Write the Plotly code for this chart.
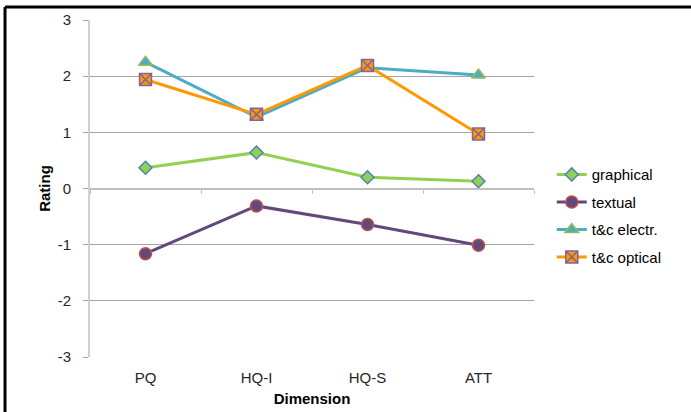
import plotly.graph_objects as go

dimensions = ["PQ", "HQ-I", "HQ-S", "ATT"]
graphical = [0.37, 0.64, 0.20, 0.13]
textual = [-1.16, -0.31, -0.64, -1.01]
tc_electr = [2.25, 1.27, 2.15, 2.02]
tc_optical = [1.94, 1.32, 2.19, 0.97]
y_ticks = [-3, -2, -1, 0, 1, 2, 3]
y_tick_labels = ["-3", "-2", "-1", "0", "1", "2", "3"]

FONT = "Liberation Sans, Arial, sans-serif"

series = [
    ("graphical", graphical, "#92d050", "diamond", "#92d050", "#4f81bd", 10),
    ("textual", textual, "#604a7b", "circle", "#604a7b", "#c0504d", 12),
    ("t&c electr.", tc_electr, "#4bacc6", "triangle-up", "#4bacc6", "#9bbb59", 12),
    ("t&c optical", tc_optical, "#ff9900", "square-x", "#ff9900", "#8064a2", 12),
]

fig = go.Figure()
for i, (name, vals, lc, sym, fc, oc, sz) in enumerate(series):
    fig.add_trace(go.Scatter(
        x=dimensions, y=vals, name=name, mode="lines+markers",
        line=dict(color=lc, width=3),
        marker=dict(symbol=sym, size=sz, color=fc, line=dict(color=oc, width=1.5)),
        legendgroup=f"g{i}",
    ))

# dummy trace to show the category axis crossing at zero
fig.add_trace(go.Scatter(x=dimensions, y=[None] * len(dimensions), xaxis="x2",
                         showlegend=False, hoverinfo="skip", mode="lines"))

fig.update_layout(
    width=691, height=412,
    margin=dict(l=90, r=157, t=20, b=55, autoexpand=False),
    paper_bgcolor="white", plot_bgcolor="white",
    font=dict(family=FONT, size=15, color="#262626"),
    showlegend=True,
    legend=dict(x=1.04, xanchor="left", y=0.59, yanchor="top",
                traceorder="grouped", tracegroupgap=5,
                font=dict(family=FONT, size=15, color="#000000"),
                bgcolor="rgba(0,0,0,0)"),
    xaxis=dict(type="category", categoryarray=dimensions, range=[-0.5, 3.5],
               showline=False, showgrid=False, ticks="", zeroline=False,
               ticklabelstandoff=10, automargin=False,
               tickfont=dict(size=15, color="#262626"),
               title=dict(text="<b>Dimension</b>", font=dict(size=15, color="#000000"), standoff=8)),
    xaxis2=dict(type="category", categoryarray=dimensions, range=[-0.5, 3.5],
                overlaying="x", anchor="free", position=0.5, side="bottom",
                showline=True, linecolor="#bfbfbf", linewidth=2, automargin=False,
                ticks="outside", ticklen=4, tickcolor="#bfbfbf", tickwidth=1,
                tickson="boundaries", showticklabels=False, showgrid=False, zeroline=False),
    yaxis=dict(range=[-3, 3], tickvals=y_ticks, ticktext=y_tick_labels,
               showgrid=True, gridcolor="#a6a6a6", gridwidth=1,
               zeroline=False, showline=True, linecolor="#d0d0d0", linewidth=2,
               ticks="outside", ticklen=5, tickcolor="#a6a6a6",
               ticklabelstandoff=9, automargin=False,
               tickfont=dict(size=15, color="#262626"),
               title=dict(text="<b>Rating</b>", font=dict(size=15, color="#000000"), standoff=3)),
    shapes=[
        dict(type="line", xref="paper", yref="paper", x0=-0.1914, x1=1.36, y0=1.0386, y1=1.0386,
             line=dict(color="black", width=3)),
        dict(type="line", xref="paper", yref="paper", x0=-0.1914, x1=-0.1914, y0=1.0386, y1=-0.17,
             line=dict(color="black", width=3)),
    ],
)

fig.write_html("out.html", config={"displayModeBar": False},
               post_script="document.body.style.margin='0';document.body.style.padding='0';")
